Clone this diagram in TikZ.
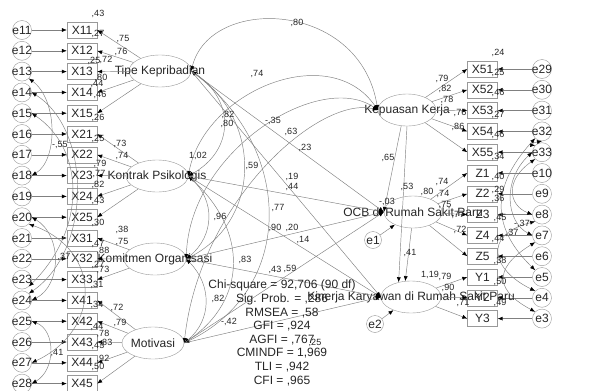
\documentclass[tikz,border=0pt]{standalone}
\usepackage{fontspec}
\setmainfont{Liberation Sans}
\usetikzlibrary{shapes.geometric,arrows.meta}
\begin{document}
\begin{tikzpicture}[x=1pt,y=-1pt,
  ln/.style={draw=black!50, line width=0.45pt},
  arr/.style={ln,-{Latex[length=5pt,width=4pt,color=black]}},
  darr/.style={ln,{Latex[length=5pt,width=4pt,color=black]}-{Latex[length=5pt,width=4pt,color=black]}},
  ind/.style={draw=black!40, rectangle, minimum width=30pt, minimum height=16pt, inner sep=0pt, font=\fontsize{12}{12}\selectfont, text=black!85},
  err/.style={draw=black!40, circle, minimum size=19pt, inner sep=0pt},
  lat/.style={draw=black!40, ellipse, minimum width=62pt, minimum height=32pt, inner sep=0pt},
  latt/.style={font=\fontsize{12}{12}\selectfont, text=black!85, inner sep=0pt},
  lab/.style={font=\fontsize{9}{9}\selectfont, text=black!85, inner sep=0pt},
]
\useasboundingbox[fill=white] (0,0) rectangle (611,391);

% left indicators
\foreach \e/\n [count=\i from 0] in {e11/X11,e12/X12,e13/X13,e14/X14,e15/X15,e16/X21,e17/X22,e18/X23,e19/X24,e20/X25,e21/X31,e22/X32,e23/X33,e24/X41,e25/X42,e26/X43,e27/X44,e28/X45}
{
  \node[ind] (\n) at (82,{30+20.8*\i}) {\n};
  \node[err,label={[latt]center:\e}] (\e) at (22,{30+20.8*\i}) {};
  \draw[arr] (\e) -- (\n);
}
% right indicators
\foreach \e/\n [count=\i from 0] in {e29/X51,e30/X52,e31/X53,e32/X54,e33/X55,e10/Z1,e9/Z2,e8/Z3,e7/Z4,e6/Z5,e5/Y1,e4/Y2,e3/Y3}
{
  \node[ind] (\n) at (482.5,{69+20.8*\i}) {\n};
  \node[err,label={[latt]center:\e}] (\e) at (542,{69+20.8*\i}) {};
  \draw[arr] (\e) -- (\n);
}

% latent variables
\node[lat,label={[latt]center:Tipe Kepribadian}] (T) at (160,71) {};
\node[lat,label={[latt]center:Kontrak Psikologis}] (K) at (157,176) {};
\node[lat,label={[latt]center:Komitmen Organisasi}] (M) at (155,259) {};
\node[lat,label={[latt]center:Motivasi}] (V) at (153,343) {};
\node[lat,minimum width=58pt,label={[latt]center:Kepuasan Kerja}] (P) at (407,110) {};
\node[lat,minimum width=58pt,label={[latt]center:OCB di Rumah Sakit Paru}] (O) at (413,212) {};
\node[lat,minimum width=60pt,label={[latt]center:Kinerja Karyawan di Rumah Sakit Paru}] (J) at (411,297) {};
\node[err,minimum size=17pt,label={[latt]center:e1}] (e1) at (373,240) {};
\node[err,minimum size=17pt,label={[latt]center:e2}] (e2) at (375,324) {};

% loadings
\foreach \n in {X11,X12,X13,X14,X15} \draw[arr] (T) -- (\n.east);
\foreach \n in {X21,X22,X23,X24,X25} \draw[arr] (K) -- (\n.east);
\foreach \n in {X31,X32,X33} \draw[arr] (M) -- (\n.east);
\foreach \n in {X41,X42,X43,X44,X45} \draw[arr] (V) -- (\n.east);
\foreach \n in {X51,X52,X53,X54,X55} \draw[arr] (P) -- (\n.west);
\foreach \n in {Z1,Z2,Z3,Z4,Z5} \draw[arr] (O) -- (\n.west);
\foreach \n in {Y1,Y2,Y3} \draw[arr] (J) -- (\n.west);

% covariances among exogenous latents
\draw[darr] (T.east) .. controls (210,-5) and (360,0) .. (P.west);
\draw[darr] (K.east) .. controls (205,90) and (330,40) .. (P.west);
\draw[darr] (M.east) .. controls (190,150) and (320,70) .. (P.west);
\draw[darr] (V.east) .. controls (200,200) and (320,95) .. (P.west);
\draw[darr] (T.east) .. controls (235,100) and (235,150) .. (K.east);
\draw[darr] (T.east) .. controls (262,120) and (262,220) .. (M.east);
\draw[darr] (T.east) .. controls (295,150) and (295,290) .. (V.east);
\draw[darr] (K.east) .. controls (215,200) and (215,235) .. (M.east);
\draw[darr] (K.east) .. controls (248,230) and (248,300) .. (V.east);
\draw[darr] (M.east) .. controls (212,285) and (212,320) .. (V.east);

% structural paths
\foreach \s in {T,K,M,V} {
  \draw[arr] (\s.east) -- (O.west);
  \draw[arr] (\s.east) -- (J.west);
}
\draw[arr] (P.250) -- (O.west);
\draw[arr] (P.south) -- (J.130);
\draw[arr] (O.265) -- (J.110);
\draw[arr] (e1) -- (O);
\draw[arr] (e2) -- (J);

% error covariances left
\draw[darr] (e13.south east) .. controls (58,100) and (58,160) .. (e18.east);
\draw[darr] (e14.east) .. controls (92,130) and (92,250) .. (e24.north east);
\draw[darr] (e15.east) .. controls (86,150) and (86,230) .. (e23.south east);
\draw[darr] (e20.east) .. controls (62,235) and (62,285) .. (e24.east);
\draw[darr] (e20.south east) .. controls (102,250) and (102,330) .. (e27.east);
\draw[darr] (e25.east) .. controls (56,330) and (56,370) .. (e28.east);

% error covariances right
\draw[darr] (e33.north west) .. controls (528,145) and (532,143) .. (e32.south);
\draw[darr] (e32.south west) .. controls (488,190) and (494,230) .. (e5.north west);
\draw[darr] (e33.west) .. controls (502,180) and (506,222) .. (e7.west);
\draw[darr] (e33.south west) .. controls (505,180) and (508,205) .. (e8.west);
\draw[darr] (e8.south west) .. controls (482,235) and (492,270) .. (e4.north west);
\draw[darr] (e7.south west) .. controls (490,270) and (498,292) .. (e3.north west);

% estimates
\foreach \x/\y/\t [count=\k] in {
 {98/14/,43},{98/34/,27},{123/39/,75},{121/52/,76},{94/61/,25},{106/60/,72},{101/78/,80},{97/84/,44},{100/95/,46},{98/118/,26},{98/139/,25},{120/144/,73},{122/156/,74},{60/145/-,55},{100/164/,79},{99/174/,77},{98/185/,82},{98/201/,43},{98/223/,30},{122/230/,38},{122/242/,75},{98/244/,47},{103/251/,88},{64/257/,37},{98/265/,27},{103/270/,73},{97/285/,31},{97/305/,34},{117/308/,72},{120/323/,79},{97/327/,44},{103/334/,78},{98/346/,43},{106/343/,83},{103/359/,92},{98/367/,50},{57/353/,41},
 {297/23/,80},{257/74/,74},{228/115/,82},{227/124/,80},{273/121/-,35},{291/132/,63},{305/148/,23},{198/156/1,02},{252/166/,59},{292/177/,19},{292/187/,44},{388/158/,65},{407/187/,53},{427/192/,80},{220/217/,96},{278/208/,77},{275/228/,90},{292/228/,20},{303/240/,14},{245/260/,83},{275/270/,43},{290/269/,59},{218/299/,82},{229/322/-,42},{387/202/-,03},{410/253/,41},{430/275/1,19},{315/343/,25},
 {498/53/,24},{442/79/,79},{445/89/,82},{498/73/,25},{447/100/,78},{498/93/,46},{460/113/,76},{498/115/,27},{458/127/,86},{498/135/,46},{498/157/,34},{442/182/,74},{443/194/,74},{498/177/,40},{498/190/,29},{498/199/,36},{445/205/,75},{458/215/,77},{500/218/,45},{460/230/,72},{498/239/,44},{512/233/,37},{522/224/-,37},{500/261/,38},{445/277/,79},{448/288/,90},{463/303/,71},{500/282/,50},{500/303/,49}}
  \node[lab] (l\k) at (\x,\y) {\t};

% fit statistics
\node[latt, align=center, font=\fontsize{12}{13.6}\selectfont] (stats) at (282,333)
 {Chi-square = 92,706 (90 df)\\Sig. Prob. = ,286\\RMSEA = ,58\\GFI = ,924\\AGFI = ,767\\CMINDF = 1,969\\TLI = ,942\\CFI = ,965};
\end{tikzpicture}
\end{document}
